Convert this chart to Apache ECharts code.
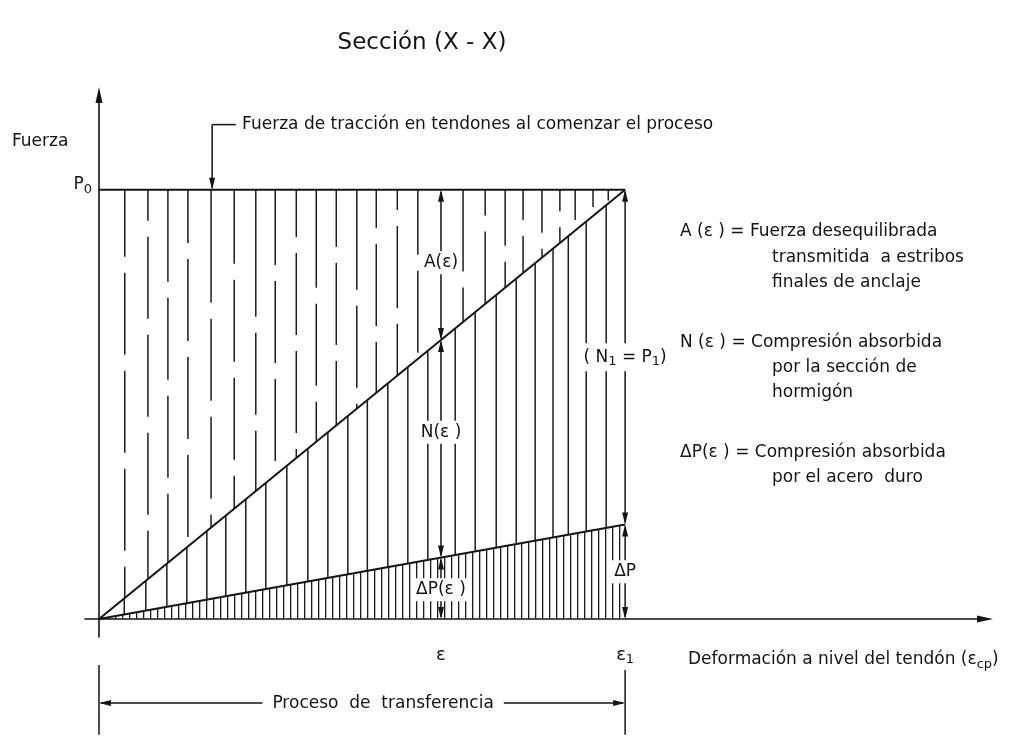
<!DOCTYPE html>
<html><head><meta charset="utf-8">
<script src="https://cdn.jsdelivr.net/npm/echarts@6/dist/echarts.min.js"></script>
<style>html,body{margin:0;padding:0;background:#fff}#c{width:1017px;height:752px}</style>
</head><body><div id="c"></div>
<script>
// ---------------- data (normalised units: P0 = 1, ε1 = 1) ----------------
const P0 = 1.0;          // tensile force in tendons at start of process
const eps1 = 1.0;        // strain at end of transfer
const epsMid = 0.65;     // intermediate strain ε
const deltaP1 = 0.22;    // ΔP at ε1 (compression taken by steel)
// x positions of the dashed hatching between P0 line and diagonal
const hatchUpperX = [0.049,0.093,0.131,0.169,0.213,0.257,0.298,0.335,0.375,0.413,0.451,0.490,0.527,0.567,0.606,0.692,0.734,0.772,0.806,0.842,0.876,0.905,0.939,0.968];
// force level where the first gap of each dashed hatch line starts
const hatchUpperGap = [0.844,0.928,0.786,0.876,0.737,0.828,0.704,0.825,0.890,0.772,0.867,0.767,0.911,0.953,0.849,0.810,0.940,0.870,0.930,0.900,0.950,0.930,0.960,0.975];
// x positions of the solid hatching between diagonal and ΔP line
const hatchMiddleX = [0.048,0.089,0.129,0.167,0.205,0.241,0.279,0.317,0.357,0.397,0.435,0.473,0.510,0.549,0.587,0.625,0.677,0.715,0.755,0.793,0.829,0.863,0.892,0.926,0.964];
const calloutX = 0.215;      // callout arrow position on P0 line
const calloutLevel = 1.152;  // callout text level
const transferLevel = -0.196; // "Proceso de transferencia" dimension level
const tickLabelLevel = -0.084;
// labels inside the diagram [x, force, text]
const innerLabels = [
  [epsMid, 0.83, 'A(ε)'],
  [epsMid, 0.435, 'N(ε )'],
  [epsMid, 0.068, 'ΔP(ε )'],
  [eps1, 0.61, '( N{s|1} = P{s|1})'],
  [eps1, 0.11, 'ΔP']
];
const xTickLabels = [[epsMid, 'ε'], [eps1, 'ε{s|1}']];

// ---------------- helpers ----------------
const INK = '#141414';
const FONT = '"DejaVu Sans", sans-serif';
const diag = x => x / eps1 * P0;
const steel = x => x / eps1 * deltaP1;
const RICH = { s: { fontSize: 13, fontFamily: FONT, fill: INK, padding: [9, 0, 0, 0] } };

function arrowHead(tx, ty, dx, dy, L, W) {
  L = L || 12; W = W || 3;
  const nx = -dy, ny = dx;
  return { type: 'polygon', shape: { points: [[tx, ty], [tx - L*dx + W*nx, ty - L*dy + W*ny], [tx - L*dx - W*nx, ty - L*dy - W*ny]] }, style: { fill: INK } };
}
function seg(x1, y1, x2, y2, w, col) {
  return { type: 'line', shape: { x1, y1, x2, y2 }, style: { stroke: col || INK, lineWidth: w || 1.5 } };
}

// dense hatch pattern for the steel triangle
const pat = document.createElement('canvas');
pat.width = 7; pat.height = 8;
const pc = pat.getContext('2d');
pc.fillStyle = '#1c1c1c'; pc.fillRect(3, 0, 1.3, 8);

const DASH = 82, GAP = 16;
const HATCH = '#1c1c1c', HW = 1.5;

const dimSegments = [
  [epsMid, 0, steel(epsMid)], [epsMid, steel(epsMid), diag(epsMid)], [epsMid, diag(epsMid), P0],
  [eps1, 0, deltaP1], [eps1, deltaP1, P0]
];
const F17 = '17px ' + FONT;

const chart = echarts.init(document.getElementById('c'), null, { renderer: 'canvas' });
chart.setOption({
  animation: false,
  backgroundColor: '#fff',
  grid: { left: 85, right: 32, top: 95, bottom: 115, containLabel: false },
  xAxis: {
    type: 'value', min: -0.0266, max: 1.684,
    axisLine: { onZero: true, symbol: ['none', 'triangle'], symbolSize: [7, 16], lineStyle: { color: INK, width: 1.6 } },
    axisTick: { show: false }, axisLabel: { show: false }, splitLine: { show: false }
  },
  yAxis: {
    type: 'value', min: -0.042, max: 1.221,
    axisLine: { onZero: true, symbol: ['none', 'triangle'], symbolSize: [7, 16], lineStyle: { color: INK, width: 1.6 } },
    axisTick: { show: false }, axisLabel: { show: false }, splitLine: { show: false }
  },
  graphic: [
    { type: 'text', x: 422, y: 43, style: { text: 'Sección (X - X)', font: '23px ' + FONT, fill: INK, align: 'center', verticalAlign: 'middle' } },
    { type: 'text', x: 12, y: 142, style: { text: 'Fuerza', font: F17, fill: INK, verticalAlign: 'middle' } },
    { type: 'text', x: 680, y: 232, style: { text: 'A (ε ) = Fuerza desequilibrada', font: F17, fill: INK, verticalAlign: 'middle' } },
    { type: 'text', x: 772, y: 258, style: { text: 'transmitida  a estribos', font: F17, fill: INK, verticalAlign: 'middle' } },
    { type: 'text', x: 772, y: 283, style: { text: 'finales de anclaje', font: F17, fill: INK, verticalAlign: 'middle' } },
    { type: 'text', x: 680, y: 343, style: { text: 'N (ε ) = Compresión absorbida', font: F17, fill: INK, verticalAlign: 'middle' } },
    { type: 'text', x: 772, y: 368, style: { text: 'por la sección de', font: F17, fill: INK, verticalAlign: 'middle' } },
    { type: 'text', x: 772, y: 393, style: { text: 'hormigón', font: F17, fill: INK, verticalAlign: 'middle' } },
    { type: 'text', x: 680, y: 453, style: { text: 'ΔP(ε ) = Compresión absorbida', font: F17, fill: INK, verticalAlign: 'middle' } },
    { type: 'text', x: 772, y: 478, style: { text: 'por el acero  duro', font: F17, fill: INK, verticalAlign: 'middle' } },
    { type: 'text', x: 688, y: 660, style: { text: 'Deformación a nivel del tendón (ε{s|cp})', rich: RICH, font: F17, fill: INK, verticalAlign: 'middle' } }
  ],
  series: [
    // steel triangle with dense hatching
    { type: 'line', data: [[0, 0], [eps1, deltaP1]], symbol: 'none', z: 3,
      lineStyle: { color: INK, width: 2 }, areaStyle: { color: { image: pat, repeat: 'repeat' }, opacity: 1 } },
    // P0 line
    { type: 'line', data: [[0, P0], [eps1, P0]], symbol: 'none', z: 3, lineStyle: { color: INK, width: 2 } },
    // diagonal N1 = P1
    { type: 'line', data: [[0, 0], [eps1, P0]], symbol: 'none', z: 3, lineStyle: { color: INK, width: 2 } },
    // dashed hatching (upper region)
    { type: 'custom', z: 2, clip: false,
      data: hatchUpperX.map((x, i) => [x, hatchUpperGap[i]]),
      renderItem: function (params, api) {
        const i = params.dataIndex, x = hatchUpperX[i];
        const top = api.coord([x, P0]), bot = api.coord([x, diag(x)]), g = api.coord([x, hatchUpperGap[i]]);
        const ch = [];
        let y = top[1], e = g[1];
        while (y < bot[1]) {
          const ee = Math.min(e, bot[1]);
          if (ee > y) ch.push(seg(top[0], y, top[0], ee, HW, HATCH));
          y = e + GAP; e = y + DASH;
        }
        return { type: 'group', children: ch };
      } },
    // solid hatching (middle region)
    { type: 'custom', z: 2, clip: false,
      data: hatchMiddleX.map(x => [x, steel(x)]),
      renderItem: function (params, api) {
        const x = hatchMiddleX[params.dataIndex];
        const a = api.coord([x, steel(x)]), b = api.coord([x, diag(x)]);
        return seg(a[0], a[1], b[0], b[1], HW, HATCH);
      } },
    // dimension arrows at ε and ε1
    { type: 'custom', z: 4, clip: false,
      data: dimSegments.map(d => [d[0], d[2]]),
      renderItem: function (params, api) {
        const d = dimSegments[params.dataIndex];
        const lo = api.coord([d[0], d[1]]), hi = api.coord([d[0], d[2]]);
        return { type: 'group', children: [
          seg(lo[0], lo[1] - 2, hi[0], hi[1] + 2, 1.5),
          arrowHead(hi[0], hi[1], 0, -1), arrowHead(lo[0], lo[1], 0, 1)
        ] };
      } },
    // labels inside the diagram
    { type: 'custom', z: 6, clip: false,
      data: innerLabels.map(l => [l[0], l[1]]),
      renderItem: function (params, api) {
        const l = innerLabels[params.dataIndex];
        const p = api.coord([l[0], l[1]]);
        return { type: 'text', x: p[0], y: p[1], style: { text: l[2], rich: RICH, font: F17, fill: INK, align: 'center', verticalAlign: 'middle', backgroundColor: '#fff', padding: [3, 4] } };
      } },
    // x tick labels ε, ε1
    { type: 'custom', z: 6, clip: false,
      data: xTickLabels.map(l => [l[0], tickLabelLevel]),
      renderItem: function (params, api) {
        const l = xTickLabels[params.dataIndex];
        const p = api.coord([l[0], tickLabelLevel]);
        return { type: 'text', x: p[0], y: p[1], style: { text: l[1], rich: RICH, font: '18px ' + FONT, fill: INK, align: 'center', verticalAlign: 'middle' } };
      } },
    // P0 label, callout and transfer dimension
    { type: 'custom', z: 5, clip: false,
      data: [[0, P0]],
      renderItem: function (params, api) {
        const p0 = api.coord([0, P0]);
        const cTop = api.coord([calloutX, calloutLevel]), cBot = api.coord([calloutX, P0]);
        const cEnd = api.coord([0.26, calloutLevel]), cTxt = api.coord([0.272, calloutLevel]);
        const tL = api.coord([0, transferLevel]), tR = api.coord([eps1, transferLevel]);
        const tMid = api.coord([0.54, transferLevel]);
        const kL1 = api.coord([0, -0.107]), kL2 = api.coord([0, -0.27]);
        const kR1 = api.coord([eps1, -0.119]), kR2 = api.coord([eps1, -0.27]);
        return { type: 'group', children: [
          { type: 'text', x: p0[0] - 7, y: p0[1] - 5, style: { text: 'P{s|0}', rich: RICH, font: F17, fill: INK, align: 'right', verticalAlign: 'middle' } },
          seg(cTop[0], cTop[1], cBot[0], cBot[1] - 2, 1.5),
          seg(cTop[0], cTop[1], cEnd[0], cEnd[1], 1.5),
          arrowHead(cBot[0], cBot[1], 0, 1),
          { type: 'text', x: cTxt[0], y: cTxt[1], style: { text: 'Fuerza de tracción en tendones al comenzar el proceso', font: F17, fill: INK, verticalAlign: 'middle' } },
          seg(kL1[0], kL1[1], kL2[0], kL2[1], 1.5),
          seg(kR1[0], kR1[1], kR2[0], kR2[1], 1.5),
          seg(tL[0] + 2, tL[1], tR[0] - 2, tR[1], 1.5),
          arrowHead(tL[0], tL[1], -1, 0), arrowHead(tR[0], tR[1], 1, 0),
          { type: 'text', x: tMid[0], y: tL[1], style: { text: 'Proceso  de  transferencia', font: F17, fill: INK, align: 'center', verticalAlign: 'middle', backgroundColor: '#fff', padding: [2, 10] } }
        ] };
      } }
  ]
});
</script>
</body></html>
